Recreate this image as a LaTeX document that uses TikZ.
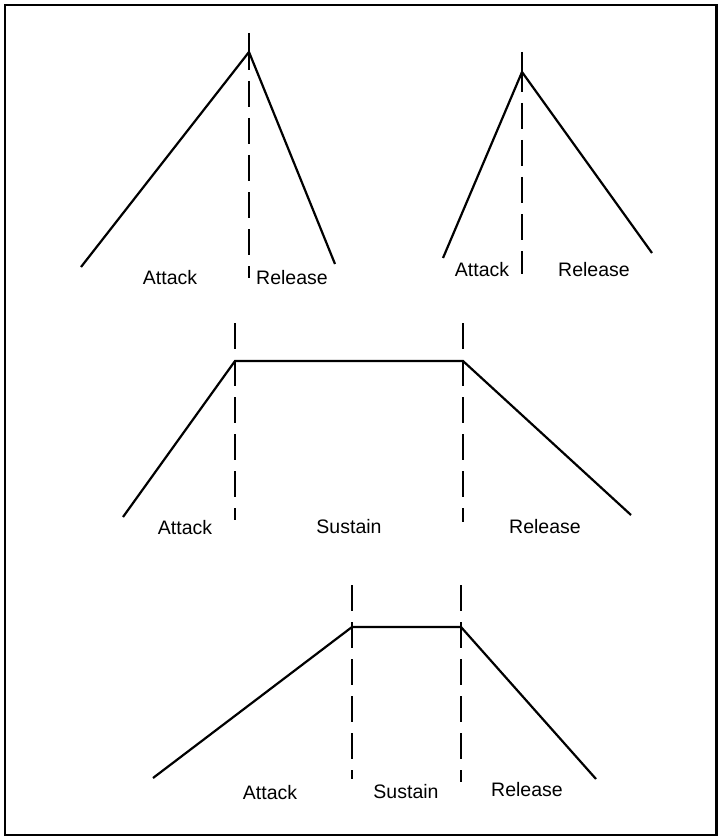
\documentclass[tikz,border=0pt]{standalone}
\usepackage{fontspec}
\setmainfont{Liberation Sans}
\begin{document}
\begin{tikzpicture}[x=1pt,y=-1pt,
  env/.style={line width=2.2pt,line join=miter},
  guide/.style={line width=1.6pt,dash pattern=on 26pt off 11pt},
  lbl/.style={font=\fontsize{19.5}{21}\selectfont,inner sep=0pt}]
\useasboundingbox (0,0) rectangle (718,837);
\draw[line width=2.4pt] (5,5) rectangle (716.5,835);
% ---- row 1 left
\coordinate (s1) at (81,267);
\coordinate (p1) at (249,52);
\coordinate (e1) at (335,264);
\coordinate (t1) at (249,33);
\coordinate (b1) at (249,278);
\draw[env] (s1) -- (p1) -- (e1);
\draw[line width=1.6pt] (t1) -- (p1);
\draw[guide] ([yshift=8pt]p1) -- (b1);
\node[lbl] (la1) at (170,278) {Attack};
\node[lbl] (lr1) at (292,278) {Release};
% ---- row 1 right
\coordinate (s2) at (443,258);
\coordinate (p2) at (522,72);
\coordinate (e2) at (652,253);
\coordinate (t2) at (522,52);
\coordinate (b2) at (522,274);
\draw[env] (s2) -- (p2) -- (e2);
\draw[line width=1.6pt] (t2) -- (p2);
\draw[guide] ([yshift=6pt]p2) -- (b2);
\node[lbl] (la2) at (482,270) {Attack};
\node[lbl] (lr2) at (594,270) {Release};
% ---- row 2
\coordinate (s3) at (123,517);
\coordinate (c3a) at (235,361);
\coordinate (c3b) at (463,361);
\coordinate (e3) at (631,515);
\coordinate (t3a) at (235,323);
\coordinate (b3a) at (235,520);
\coordinate (t3b) at (463,323);
\coordinate (b3b) at (463,522);
\draw[env] (s3) -- (c3a) -- (c3b) -- (e3);
\draw[guide] (t3a) -- (b3a);
\draw[guide] (t3b) -- (b3b);
\node[lbl] (la3) at (185,528) {Attack};
\node[lbl] (ls3) at (349,527) {Sustain};
\node[lbl] (lr3) at (545,527) {Release};
% ---- row 3
\coordinate (s4) at (153,778);
\coordinate (c4a) at (352,627);
\coordinate (c4b) at (461,627);
\coordinate (e4) at (596,779);
\coordinate (t4a) at (352,585);
\coordinate (b4a) at (352,779);
\coordinate (t4b) at (461,585);
\coordinate (b4b) at (461,782);
\draw[env] (s4) -- (c4a) -- (c4b) -- (e4);
\draw[guide] (t4a) -- (b4a);
\draw[guide] (t4b) -- (b4b);
\node[lbl] (la4) at (270,793) {Attack};
\node[lbl] (ls4) at (406,792) {Sustain};
\node[lbl] (lr4) at (527,790) {Release};
\end{tikzpicture}
\end{document}
